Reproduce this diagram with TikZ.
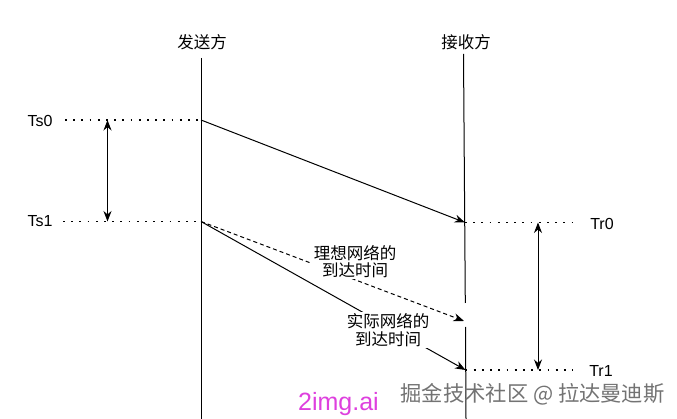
\documentclass[tikz,border=0pt]{standalone}
\usepackage{fontspec}
\setmainfont{Liberation Sans}
\newfontfamily\cjk{Noto Sans CJK SC}
\usetikzlibrary{arrows.meta}
\begin{document}
\begin{tikzpicture}[x=1pt,y=-1pt,line width=1pt,
  lifeline/.style={draw=black,line width=1pt},
  dotline/.style={line width=1.8pt,dash pattern=on 1.8pt off 6.4pt},
  msg/.style={-{Stealth[length=10.5pt,width=8pt]}},
  spanarrow/.style={{Stealth[length=10.5pt,width=8pt]}-{Stealth[length=10.5pt,width=8pt]}},
  tlabel/.style={font=\fontsize{16}{18}\selectfont,inner sep=0pt},
  header/.style={font=\cjk\fontsize{16.5}{18}\selectfont,inner sep=0pt},
  cjklabel/.style={font=\cjk\fontsize{16.5}{17.5}\selectfont,align=center,fill=white,inner sep=1.5pt}
]
\useasboundingbox[fill=white] (0,0) rectangle (677,419);

% headers
\node[header] (hs) at (202,42) {发送方};
\node[header] (hr) at (466,42) {接收方};

% lifelines
\coordinate (sTop) at (201,58);
\coordinate (sBot) at (201,419);
\coordinate (rTop) at (463.5,54);
\coordinate (rGapA) at (465.3,303);
\coordinate (rGapB) at (465.5,327);
\coordinate (rBot) at (466,419);
\draw[lifeline] (sTop) -- (sBot);
\draw[lifeline] (rTop) -- (rGapA);
\draw[lifeline] (rGapB) -- (rBot);

% event points
\coordinate (s0) at (201,120);
\coordinate (s1) at (201,221.5);
\coordinate (r0) at (465,222.5);
\coordinate (rI) at (464,321);
\coordinate (r1) at (465.5,370);

% time labels
\node[tlabel] (Ts0) at (40,121) {Ts0};
\node[tlabel] (Ts1) at (40,221.5) {Ts1};
\node[tlabel] (Tr0) at (602,224) {Tr0};
\node[tlabel] (Tr1) at (601,371) {Tr1};

% dotted guide lines
\coordinate (d0) at (65,120);
\coordinate (d1) at (63,221.5);
\coordinate (d2) at (574,222.5);
\coordinate (d3) at (573,370);
\draw[dotline] (d0) -- (s0);
\draw[dotline] (d1) -- (s1);
\draw[dotline] (r0) -- (d2);
\draw[dotline] (r1) -- (d3);

% interval arrows
\coordinate (a0) at (107.5,120);
\coordinate (a1) at (107.5,221.5);
\coordinate (b0) at (538,222.5);
\coordinate (b1) at (538,370);
\draw[spanarrow] (a0) -- (a1);
\draw[spanarrow] (b0) -- (b1);

% messages
\draw[msg] (s0) -- (r0);
\draw[msg,dashed,dash pattern=on 4pt off 3pt] (s1) -- (rI);
\draw[msg] (s1) -- (r1);

% message labels
\node[cjklabel] (ideal) at (355,261.5) {理想网络的\\到达时间};
\node[cjklabel] (real) at (388,330) {实际网络的\\到达时间};

% watermarks
\node[font=\fontsize{25}{27}\selectfont,text={rgb,255:red,222;green,64;blue,222},inner sep=0pt] (wm1) at (338.5,404) {2img.ai};
\node[font=\cjk\fontsize{21.3}{24}\selectfont,text=black!55,inner sep=0pt] (wm2) at (532.5,394.5) {掘金技术社区 @ 拉达曼迪斯};
\end{tikzpicture}
\end{document}
